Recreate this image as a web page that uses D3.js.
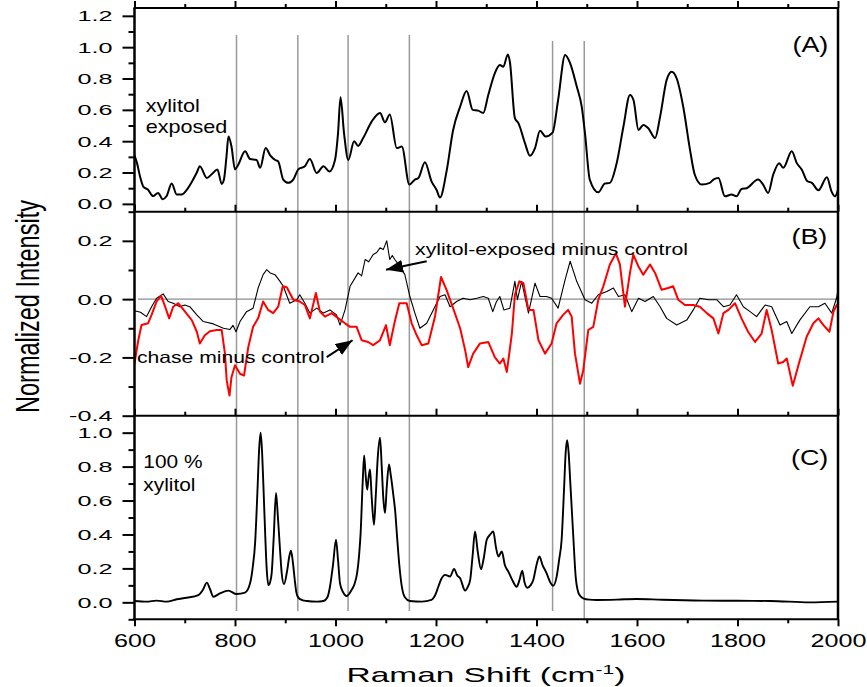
<!DOCTYPE html>
<html>
<head>
<meta charset="utf-8">
<script src="https://cdn.jsdelivr.net/npm/d3@7"></script>
<style>
  html, body { margin: 0; padding: 0; background: #fff; }
  svg { display: block; }
  text { font-family: "Liberation Sans", Arial, Helvetica, sans-serif; fill: #000; }
</style>
</head>
<body>
<svg id="chart" width="867" height="687"></svg>
<script>
// ---------- data: [Raman shift (cm-1), normalized intensity] ----------
// (A) xylitol exposed
const exposedSpectrum = [
  [600,0.31],[605,0.26],[611,0.175],[617.5,0.11],[627,0.09],[637,0.05],[647,0.07],[656,0.03],
  [664,0.05],[674,0.13],[684,0.06],[694,0.06],[704,0.09],[714,0.14],[724,0.2],[730,0.24],
  [744,0.165],[754,0.19],[765,0.22],[773.5,0.127],[778,0.155],[783,0.3],[787,0.43],[793,0.366],
  [800,0.22],[806.5,0.25],[820,0.335],[830,0.286],[843,0.28],[850,0.23],[861,0.356],[870,0.31],
  [880,0.28],[886,0.27],[896,0.155],[906,0.134],[916,0.155],[926,0.22],[939,0.24],[949,0.286],
  [962.6,0.197],[976,0.24],[988,0.207],[999,0.28],[1005,0.45],[1010,0.68],[1017,0.45],[1025.5,0.28],
  [1037,0.40],[1045,0.37],[1055,0.42],[1072,0.525],[1088.6,0.58],[1098.5,0.52],[1108,0.57],[1122,0.356],
  [1132,0.366],[1147,0.123],[1158,0.155],[1165,0.165],[1178,0.265],[1191,0.144],[1201,0.09],[1208,0.04],
  [1221,0.207],[1234,0.47],[1248,0.62],[1261,0.72],[1273,0.60],[1284,0.595],[1294,0.58],[1304,0.695],
  [1317,0.833],[1327,0.886],[1334,0.875],[1343,0.954],[1347,0.907],[1357,0.547],[1364,0.515],[1377,0.388],
  [1387,0.307],[1397,0.356],[1407,0.466],[1418,0.43],[1432,0.455],[1443,0.663],[1457,0.95],[1467,0.897],
  [1480,0.75],[1490,0.62],[1496.5,0.45],[1506,0.155],[1523,0.074],[1536,0.13],[1546,0.134],[1559.6,0.26],
  [1573,0.494],[1586,0.695],[1593,0.663],[1603,0.472],[1612.6,0.504],[1622.5,0.483],[1636,0.42],[1646,0.557],
  [1659,0.79],[1669,0.843],[1679,0.80],[1692,0.62],[1705.5,0.345],[1715,0.186],[1729,0.123],[1745,0.134],
  [1752,0.155],[1762,0.165],[1775,0.048],[1788,0.059],[1798,0.048],[1808,0.095],[1818,0.1],[1841,0.155],
  [1851,0.123],[1861,0.07],[1871,0.186],[1883,0.26],[1891,0.23],[1908,0.335],[1918,0.26],[1928,0.218],
  [1939,0.144],[1948,0.134],[1961,0.087],[1978,0.17],[1987,0.08],[1994,0.048],[2000,0.09]
];

// (B) xylitol-exposed minus control
const exposedMinusControl = [
  [600,-0.04],[612,-0.045],[624,-0.06],[634,-0.026],[644,0.003],[657,0.018],[667,-0.008],[677,-0.014],
  [690,-0.026],[700,-0.02],[710,-0.026],[724,-0.054],[737,-0.077],[757,-0.085],[777,-0.1],[790,-0.104],
  [796,-0.09],[802,-0.112],[810,-0.077],[823,-0.043],[836,-0.031],[846,0.038],[856,0.084],[863,0.101],
  [870,0.09],[879.6,0.084],[889.6,0.061],[896,0.044],[909,-0.014],[923,-0.002],[929,0.015],[939,-0.014],
  [949,-0.048],[962.6,-0.031],[976,-0.048],[989,-0.037],[1002,-0.054],[1009,-0.089],[1019,-0.037],[1029,0.044],
  [1045,0.09],[1052,0.08],[1059,0.136],[1066,0.128],[1075,0.153],[1082,0.16],[1088.6,0.176],[1095,0.17],
  [1102,0.2],[1108,0.136],[1113,0.15],[1118,0.136],[1128,0.113],
  [1138,0.084],[1148,0.009],[1158,-0.048],[1168,-0.1],[1181.5,-0.083],[1194.6,-0.037],[1208,0.009],[1218,0.015],
  [1228,-0.026],[1241,-0.008],[1254,0.003],[1268,-0.002],[1281,0.003],[1294,0.009],[1304,0.003],[1313,-0.043],
  [1320,-0.01],[1327,0.009],[1335,-0.037],[1347,-0.031],[1357,0.061],[1362,-0.002],[1370.5,0.061],[1384,-0.048],
  [1397,0.055],[1407,0.009],[1420,0.009],[1430,0.003],[1443,-0.031],[1457,0.067],[1467,0.13],[1480,0.061],
  [1496.5,-0.002],[1510,-0.014],[1523,0.015],[1540,0.026],[1553,0.038],[1563,0.009],[1576,0.015],[1589.5,-0.043],
  [1603,0.003],[1616,-0.008],[1632.5,0.009],[1646,-0.026],[1659,-0.066],[1679,-0.089],[1699,-0.072],[1712,-0.037],
  [1725,0.003],[1742,-0.002],[1758.6,-0.002],[1772,-0.026],[1785,-0.02],[1798,0.015],[1811.6,-0.026],[1825,-0.043],
  [1838,-0.06],[1855,-0.02],[1868,-0.026],[1884.6,-0.089],[1898,-0.077],[1908,-0.118],[1924,-0.072],[1944,-0.026],
  [1961,-0.026],[1974,-0.014],[1987.5,-0.048],[1997,0.003],[2000,0.032]
];

// (B) chase minus control
const chaseMinusControl = [
  [600,-0.221],[607.5,-0.141],[614,-0.089],[627,-0.083],[634,-0.054],[644,-0.008],[653,0.011],[661,-0.026],
  [669,-0.066],[677,-0.026],[687,-0.014],[700.5,-0.043],[714,-0.072],[724,-0.112],[730,-0.152],[740,-0.124],
  [750,-0.11],[763.6,-0.106],[773.5,-0.106],[780,-0.187],[783.5,-0.279],[789,-0.331],[793,-0.268],[800,-0.227],
  [810,-0.256],[818,-0.262],[826.5,-0.164],[836,-0.095],[846,-0.066],[856,-0.008],[866,-0.037],[876,-0.048],
  [886,-0.026],[895,0.044],[903,0.041],[916,-0.002],[929,-0.008],[939,-0.02],[949,-0.066],[961,0.021],
  [969,-0.043],[979,-0.06],[992.5,-0.048],[1005.6,-0.066],[1019,-0.083],[1029,-0.095],[1042,-0.095],[1052,-0.141],
  [1065,-0.147],[1075,-0.158],[1088.6,-0.141],[1100.5,-0.089],[1108,-0.158],[1118,-0.077],[1127,-0.014],[1141.7,-0.014],
  [1151.6,-0.083],[1161.6,-0.124],[1171.5,-0.158],[1184.7,-0.152],[1198,-0.06],[1210,0.076],[1221,0.032],[1234,-0.031],
  [1248,-0.1],[1258,-0.175],[1264,-0.233],[1274,-0.187],[1287.6,-0.152],[1304,-0.147],[1317,-0.199],[1327,-0.221],
  [1334,-0.204],[1341,-0.25],[1351,-0.118],[1357,0.015],[1366,0.061],[1374,0.055],[1384,-0.037],[1394,-0.037],
  [1404,-0.141],[1417,-0.187],[1430,-0.152],[1440,-0.083],[1453,-0.054],[1463,-0.037],[1470,-0.06],[1476.6,-0.187],
  [1486.6,-0.29],[1493,-0.245],[1503,-0.106],[1513,-0.095],[1523,-0.002],[1533,0.044],[1546,0.119],[1558,0.157],
  [1566,0.119],[1576,-0.026],[1586,0.09],[1592.6,0.153],[1602.6,0.113],[1612.5,0.084],[1626,0.119],[1636,0.09],
  [1649,0.032],[1662,0.038],[1672,0.044],[1682,-0.002],[1695.5,-0.02],[1712,-0.02],[1725,-0.026],[1739,-0.048],
  [1752,-0.066],[1762,-0.118],[1772,-0.048],[1782,-0.037],[1795,-0.014],[1808,-0.066],[1821,-0.112],[1835,-0.147],
  [1848,-0.118],[1858,-0.037],[1868,-0.106],[1881,-0.221],[1891,-0.216],[1898,-0.204],[1910,-0.297],[1924,-0.21],
  [1937.6,-0.129],[1951,-0.083],[1961,-0.066],[1971,-0.089],[1983,-0.112],[1991,-0.043],[1997.5,-0.02],[2000,-0.02]
];

// (C) 100 % xylitol reference spectrum
const xylitolSpectrum = [
  [600,0.008],[624,0.004],[644,0.01],[664,0.004],[684,0.018],[704,0.027],[727,0.043],[736,0.073],
  [744,0.116],[750,0.08],[757,0.033],[770,0.053],[787,0.069],[803,0.049],[820,0.057],[830,0.112],
  [835,0.2],[840,0.349],[845,0.68],[848,0.9],[851,1.0],[854,0.88],[857,0.65],[860,0.408],
  [863,0.2],[866.5,0.102],[870,0.12],[873,0.172],[877,0.38],[881.6,0.645],[885,0.52],[889.6,0.31],
  [893,0.17],[897.5,0.107],[904,0.191],[908,0.27],[911.4,0.304],[915,0.24],[919,0.13],[922,0.06],
  [926,0.027],[935,0.012],[943,0.008],[962.6,0.004],[976,0.008],[984,0.03],[989,0.092],[995,0.22],
  [1001,0.369],[1005,0.25],[1009,0.112],[1015,0.06],[1022,0.037],[1032,0.073],[1038,0.11],[1043,0.172],
  [1047,0.28],[1050,0.408],[1054,0.7],[1057,0.866],[1060,0.75],[1063,0.664],[1066,0.74],[1068.7,0.783],
  [1072,0.62],[1076.6,0.457],[1080,0.62],[1084,0.85],[1088.6,0.97],[1092,0.8],[1095,0.62],[1098.5,0.527],
  [1102,0.68],[1106.5,0.812],[1110,0.75],[1115,0.635],[1119,0.53],[1122,0.408],[1127,0.22],[1132,0.092],
  [1138,0.03],[1148,0.008],[1171.5,0.004],[1191,0.014],[1198,0.04],[1204.6,0.092],[1211,0.14],[1218,0.162],
  [1228,0.152],[1236,0.197],[1242,0.16],[1248,0.142],[1258,0.069],[1263,0.09],[1268,0.132],[1273,0.28],
  [1277.6,0.418],[1283,0.3],[1289.6,0.195],[1295,0.26],[1301,0.369],[1308,0.4],[1314,0.418],[1319,0.33],
  [1324,0.27],[1331,0.3],[1337,0.22],[1344,0.181],[1352,0.13],[1360.6,0.092],[1366,0.13],[1371.7,0.187],
  [1376,0.12],[1381.7,0.086],[1388,0.1],[1393.6,0.132],[1400,0.22],[1405.6,0.27],[1412,0.22],[1420,0.172],
  [1427,0.12],[1433.4,0.098],[1440,0.15],[1445,0.25],[1450,0.369],[1455,0.68],[1458,0.88],[1461,0.956],
  [1464,0.88],[1467,0.72],[1473,0.4],[1478,0.15],[1483,0.06],[1488,0.035],[1493,0.024],[1505,0.016],
  [1520,0.014],[1560,0.016],[1599,0.02],[1650,0.015],[1732,0.01],[1800,0.009],[1865,0.008],[1944,0.0],[2000,0.004]
];

// vertical guide lines: shift, top end (panel A units), bottom end (panel C units)
const guideShifts = [803, 925, 1025, 1147, 1432, 1495];
const guideTops    = [1.077, 1.077, 1.077, 1.077, 1.039, 1.039];
const guideBottoms = [-0.051, -0.051, -0.051, -0.051, -0.051, -0.105];

// axis ticks
const xMajorTicks = [600, 800, 1000, 1200, 1400, 1600, 1800, 2000];
const xMinorTicks = [700, 900, 1100, 1300, 1500, 1700, 1900];
const yTicksA = [0, 0.2, 0.4, 0.6, 0.8, 1.0, 1.2];
const yMinorA = [0.1, 0.3, 0.5, 0.7, 0.9, 1.1];
const yTicksB = [-0.4, -0.2, 0.0, 0.2];
const yMinorB = [-0.3, -0.1, 0.1, 0.3];
const yTicksC = [0, 0.2, 0.4, 0.6, 0.8, 1.0];
const yMinorC = [-0.1, 0.1, 0.3, 0.5, 0.7, 0.9];

// ---------- layout ----------
const svg = d3.select("#chart");
const plotLeft = 134.5, plotRight = 838;
const panelTop = 8, sepAB = 211.7, sepBC = 415.7, plotBottom = 619.3;

const x = d3.scaleLinear().domain([600, 2000]).range([plotLeft, plotRight]);
const yA = d3.scaleLinear().domain([-0.05, 1.25]).range([sepAB, panelTop]);
const yB = d3.scaleLinear().domain([-0.4, 0.3]).range([sepBC, sepAB]);
const yC = d3.scaleLinear().domain([-0.1, 1.1]).range([plotBottom, sepBC]);

const fmt = v => (Math.abs(v) < 1e-9 ? 0 : v).toFixed(1);

// clip each panel to its frame
const defs = svg.append("defs");
[["clipA", panelTop, sepAB], ["clipB", sepAB, sepBC], ["clipC", sepBC, plotBottom]].forEach(([id, t, b]) => {
  defs.append("clipPath").attr("id", id).append("rect")
    .attr("x", plotLeft).attr("y", t).attr("width", plotRight - plotLeft).attr("height", b - t);
});
defs.append("marker").attr("id", "arrowHead")
  .attr("markerUnits", "userSpaceOnUse").attr("markerWidth", 18).attr("markerHeight", 13)
  .attr("refX", 17).attr("refY", 6.5).attr("orient", "auto")
  .append("path").attr("d", "M0,0 L17,6.5 L0,13 Z").attr("fill", "#000");

// ---------- guide lines ----------
svg.append("g").selectAll("line").data(guideShifts).join("line")
  .attr("x1", d => x(d)).attr("x2", d => x(d))
  .attr("y1", (d, i) => yA(guideTops[i]))
  .attr("y2", (d, i) => yC(guideBottoms[i]))
  .attr("stroke", "#9a9a9a").attr("stroke-width", 1.5);

// zero line in panel B
svg.append("line")
  .attr("x1", x(607)).attr("x2", x(2000))
  .attr("y1", yB(0)).attr("y2", yB(0))
  .attr("stroke", "#8c8c8c").attr("stroke-width", 1.2);

// ---------- spectra ----------
const lineA = d3.line().x(d => x(d[0])).y(d => yA(d[1])).curve(d3.curveMonotoneX);
const lineB = d3.line().x(d => x(d[0])).y(d => yB(d[1]));
const lineC = d3.line().x(d => x(d[0])).y(d => yC(d[1])).curve(d3.curveMonotoneX);

svg.append("path").datum(exposedSpectrum).attr("clip-path", "url(#clipA)")
  .attr("d", lineA).attr("fill", "none").attr("stroke", "#000").attr("stroke-width", 2)
  .attr("stroke-linejoin", "round");

svg.append("path").datum(exposedMinusControl).attr("clip-path", "url(#clipB)")
  .attr("d", lineB).attr("fill", "none").attr("stroke", "#000").attr("stroke-width", 1.1)
  .attr("stroke-linejoin", "round");

svg.append("path").datum(chaseMinusControl).attr("clip-path", "url(#clipB)")
  .attr("d", lineB).attr("fill", "none").attr("stroke", "#ff0000").attr("stroke-width", 2)
  .attr("stroke-linejoin", "round");

svg.append("path").datum(xylitolSpectrum).attr("clip-path", "url(#clipC)")
  .attr("d", lineC).attr("fill", "none").attr("stroke", "#000").attr("stroke-width", 1.9)
  .attr("stroke-linejoin", "round");

// ---------- axes ----------
function styleAxis(g) {
  g.select(".domain").remove();
  g.selectAll(".tick line").attr("stroke", "#000").attr("stroke-width", 2);
}

function leftAxis(scale, majors, minors) {
  const gMaj = svg.append("g").attr("transform", `translate(${plotLeft},0)`)
    .call(d3.axisLeft(scale).tickValues(majors).tickSize(12).tickFormat(fmt));
  styleAxis(gMaj);
  gMaj.selectAll(".tick text")
    .attr("x", 0).attr("dy", "0.36em")
    .attr("transform", "translate(-22,0) scale(1.8,1)")
    .style("font-size", "14px");
  const gMin = svg.append("g").attr("transform", `translate(${plotLeft},0)`)
    .call(d3.axisLeft(scale).tickValues(minors).tickSize(6).tickFormat(""));
  styleAxis(gMin);
}
leftAxis(yA, yTicksA, yMinorA);
leftAxis(yB, yTicksB, yMinorB);
leftAxis(yC, yTicksC, yMinorC);

// inner x axes (ticks pointing up into the panel above) and the top frame
[panelTop, sepAB, sepBC].forEach(yPos => {
  const gMaj = svg.append("g").attr("transform", `translate(0,${yPos})`)
    .call(d3.axisTop(x).tickValues(xMajorTicks).tickSize(7).tickFormat(""));
  styleAxis(gMaj);
  const gMin = svg.append("g").attr("transform", `translate(0,${yPos})`)
    .call(d3.axisTop(x).tickValues(xMinorTicks).tickSize(4).tickFormat(""));
  styleAxis(gMin);
});

// bottom axis with labels
const gBottom = svg.append("g").attr("transform", `translate(0,${plotBottom})`)
  .call(d3.axisBottom(x).tickValues(xMajorTicks).tickSize(7).tickFormat(d3.format("d")));
styleAxis(gBottom);
gBottom.selectAll(".tick text")
  .attr("y", 0).attr("dy", 0)
  .attr("transform", "translate(0,27.4) scale(1.4,1)")
  .style("font-size", "18px");
const gBottomMin = svg.append("g").attr("transform", `translate(0,${plotBottom})`)
  .call(d3.axisBottom(x).tickValues(xMinorTicks).tickSize(4).tickFormat(""));
styleAxis(gBottomMin);

// frame
const frame = svg.append("g").attr("stroke", "#000").attr("fill", "none");
[panelTop, sepAB, sepBC, plotBottom].forEach(yPos => {
  frame.append("line").attr("x1", plotLeft - 1).attr("x2", plotRight + 1)
    .attr("y1", yPos).attr("y2", yPos).attr("stroke-width", 2);
});
[plotLeft, plotRight].forEach(xPos => {
  frame.append("line").attr("x1", xPos).attr("x2", xPos)
    .attr("y1", panelTop).attr("y2", plotBottom).attr("stroke-width", 2.5);
});

// ---------- text ----------
function stretchedText(px, py, str, size, sx, anchor) {
  return svg.append("text")
    .attr("transform", `translate(${px},${py}) scale(${sx},1)`)
    .attr("text-anchor", anchor || "start")
    .style("font-size", size + "px")
    .text(str);
}

// axis titles
svg.append("text")
  .attr("transform", "translate(27.5,306.5) scale(1.4,1) rotate(-90)")
  .attr("text-anchor", "middle").attr("dominant-baseline", "central")
  .style("font-size", "23.5px")
  .text("Normalized Intensity");

const xTitle = svg.append("text")
  .attr("transform", "translate(486,681.7) scale(1.63,1)")
  .attr("text-anchor", "middle")
  .style("font-size", "20.5px");
xTitle.append("tspan").text("Raman Shift (cm");
xTitle.append("tspan").attr("dy", -8).style("font-size", "13px").text("-1");
xTitle.append("tspan").attr("dy", 8).text(")");

// panel letters
stretchedText(x(1980.7), yA(0.971), "(A)", 21.5, 1.25, "end");
stretchedText(x(1978.7), yB(0.188), "(B)", 21.5, 1.25, "end");
stretchedText(x(1980.7), yC(0.812), "(C)", 21.5, 1.25, "end");

// panel notes
stretchedText(x(622.3), yA(0.589), "xylitol", 18, 1.2);
stretchedText(x(622.3), yA(0.452), "exposed", 18, 1.2);
stretchedText(x(617.5), yC(0.793), "100 %", 18.5, 1.13);
stretchedText(x(617.5), yC(0.654), "xylitol", 18.5, 1.13);

stretchedText(x(1158.2), yB(0.15), "xylitol-exposed minus control", 16.5, 1.29);
stretchedText(x(605), yB(-0.219), "chase minus control", 16.5, 1.28);

// arrows pointing from the notes to their curves
const arrows = [
  { from: [1181.5, 0.13], to: [1100.5, 0.101] },
  { from: [982.5, -0.199], to: [1034, -0.141] }
];
svg.append("g").selectAll("line").data(arrows).join("line")
  .attr("x1", d => x(d.from[0])).attr("y1", d => yB(d.from[1]))
  .attr("x2", d => x(d.to[0])).attr("y2", d => yB(d.to[1]))
  .attr("stroke", "#000").attr("stroke-width", 2)
  .attr("marker-end", "url(#arrowHead)");
</script>
</body>
</html>
